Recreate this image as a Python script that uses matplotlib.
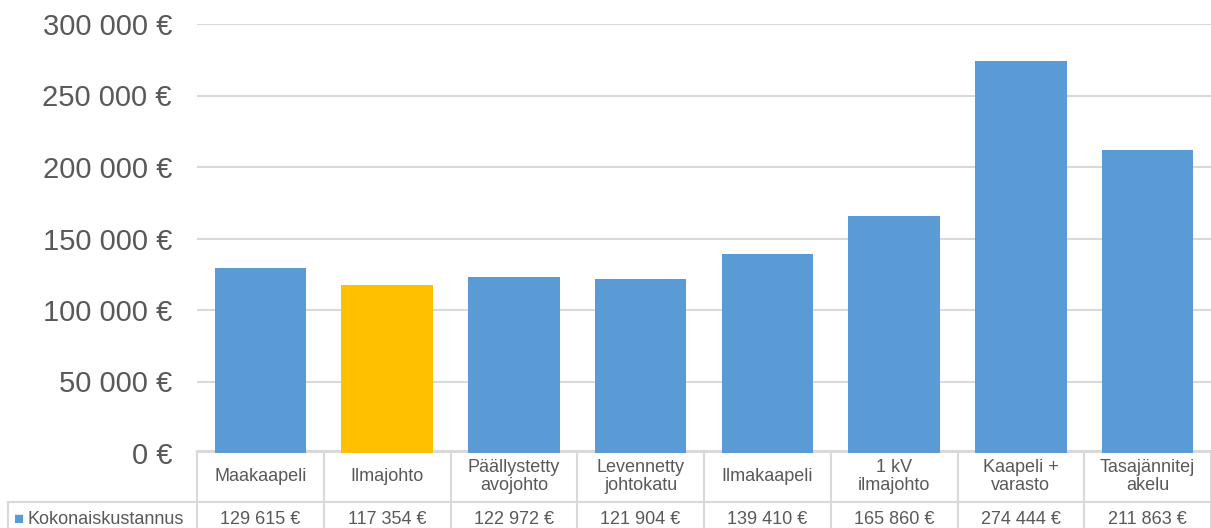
import numpy as np
import matplotlib
matplotlib.use("Agg")
import matplotlib.pyplot as plt
from matplotlib.transforms import blended_transform_factory
from matplotlib.ticker import FuncFormatter

# ---------- Data ---------- #
categories = ["Maakaapeli", "Ilmajohto", "Päällystetty\navojohto", "Levennetty\njohtokatu",
              "Ilmakaapeli", "1 kV\nilmajohto", "Kaapeli +\nvarasto", "Tasajännitej\nakelu"]
values = [129615, 117354, 122972, 121904, 139410, 165860, 274444, 211863]
series_name = "Kokonaiskustannus"
highlight = 1  # Ilmajohto

# ---------- Style ---------- #
plt.rcParams['font.family'] = ['Liberation Sans', 'DejaVu Sans']
BLUE = "#5B9BD5"
GOLD = "#FFC000"
TEXT = "#595959"
GRID = "#D9D9D9"

def euro(v, pos=None):
    s = f"{int(round(v)):,}".replace(",", " ")
    return f"{s} €"

# ---------- Figure ---------- #
fig = plt.figure(figsize=(12.11, 5.28), dpi=100)
W, H = 1211, 528
ax = fig.add_axes([197 / W, (H - 453) / H, 1014 / W, 429 / H])

x = np.arange(len(categories))
colors = [GOLD if i == highlight else BLUE for i in range(len(categories))]
ax.bar(x, values, width=0.72, color=colors, zorder=3)

ax.set_xlim(-0.5, len(categories) - 0.5)
ax.set_ylim(0, 300000)
ax.set_yticks(np.arange(0, 300001, 50000))
ax.yaxis.set_major_formatter(FuncFormatter(euro))
ax.tick_params(axis='y', length=0, pad=18, labelsize=21, labelcolor=TEXT)
ax.set_xticks([])
ax.grid(axis='y', color=GRID, linewidth=1.5, zorder=0)
for s in ax.spines.values():
    s.set_visible(False)

# ---------- Data table below the plot ---------- #
tr = blended_transform_factory(ax.transData, ax.transAxes)
px = 1 / 429  # one pixel in axes fraction (vertical)
y_top = 2 * px
y_mid = -49 * px
y_bot = -90 * px
x_left = -0.5 - 189 / 126.75
n = len(categories)
lw = 1.5

# horizontal lines
ax.plot([-0.5, n - 0.5], [y_top, y_top], color=GRID, lw=lw, transform=tr, clip_on=False)
ax.plot([x_left, n - 0.5], [y_mid, y_mid], color=GRID, lw=lw, transform=tr, clip_on=False)
# vertical lines
for i in range(n + 1):
    ax.plot([i - 0.5, i - 0.5], [y_top, y_bot], color=GRID, lw=lw, transform=tr, clip_on=False)
ax.plot([x_left, x_left], [y_mid, y_bot], color=GRID, lw=lw, transform=tr, clip_on=False)

for i, (cat, val) in enumerate(zip(categories, values)):
    ax.text(i, (y_top + y_mid) / 2, cat, ha='center', va='center', fontsize=13,
            color=TEXT, transform=tr, linespacing=1.05)
    ax.text(i, -66 * px, euro(val), ha='center', va='center', fontsize=13,
            color=TEXT, transform=tr)

# legend key + series name
ax.text(x_left + 6 / 126.75, -66 * px, "■", ha='left', va='center', fontsize=12,
        color=BLUE, transform=tr)
ax.text(x_left + 20 / 126.75, -66 * px, series_name, ha='left', va='center', fontsize=13,
        color=TEXT, transform=tr)

fig.savefig("out.png", dpi=100)
